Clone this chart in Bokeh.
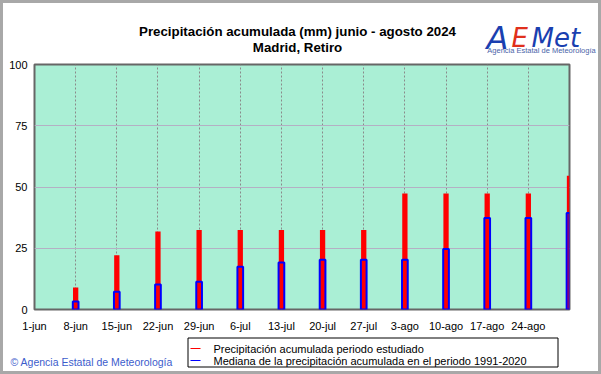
from bokeh.plotting import figure
from bokeh.layouts import column
from bokeh.models import Range1d, FixedTicker
from bokeh.core.properties import value
from bokeh.embed import file_html
from bokeh.resources import INLINE

# ---------------- data ----------------
title_line1 = "Precipitación acumulada (mm) junio - agosto 2024"
title_line2 = "Madrid, Retiro"
tick_days = [0, 7, 14, 21, 28, 35, 42, 49, 56, 63, 70, 77, 84]
tick_labels = ["1-jun", "8-jun", "15-jun", "22-jun", "29-jun", "6-jul", "13-jul",
               "20-jul", "27-jul", "3-ago", "10-ago", "17-ago", "24-ago"]
bar_days = [7, 14, 21, 28, 35, 42, 49, 56, 63, 70, 77, 84, 91]
precip_2024 = [9.0, 22.1, 31.8, 32.5, 32.5, 32.5, 32.5, 32.5, 47.3, 47.3, 47.3, 47.3, 54.6]
median_1991_2020 = [3.3, 7.2, 10.2, 11.3, 17.5, 19.2, 20.3, 20.3, 20.3, 24.7, 37.3, 37.3, 39.4]
y_ticks = [0, 25, 50, 75, 100]
legend_labels = ["Precipitación acumulada periodo estudiado",
                 "Mediana de la precipitación acumulada en el periodo 1991-2020"]
legend_colors = ["#ff0000", "#0000ff"]
credit = "© Agencia Estatal de Meteorología"
logo_sub = "Agencia Estatal de Meteorología"

FONT = "Liberation Sans"
W = 601


def blank(height, y_top, y_bottom):
    f = figure(width=W, height=height, output_backend="svg", toolbar_location=None,
               x_range=Range1d(0, W), y_range=Range1d(y_bottom, y_top),
               min_border=0, min_border_left=0, min_border_right=0,
               min_border_top=0, min_border_bottom=0,
               background_fill_color=None, border_fill_color=None)
    f.axis.visible = False
    f.grid.visible = False
    f.outline_line_color = None
    f.frame_align = False
    return f


# ---------------- header ----------------
head = blank(56, 0, 56)
head.text(x=[297, 297], y=[31, 46.5], text=[title_line1, title_line2],
          text_font=value(FONT), text_font_style="bold", text_font_size="13.3px",
          text_align="center", text_baseline="alphabetic", text_color="black")
head.text(x=[486], y=[37], text=["A"], text_font=value("DejaVu Sans"),
          text_font_style="italic", text_font_size="32px", text_color="#1a3fb0",
          text_baseline="alphabetic")
head.text(x=[511], y=[37], text=["E"], text_font=value("DejaVu Sans"),
          text_font_style="italic", text_font_size="26px", text_color="#e0301c",
          text_baseline="alphabetic")
head.text(x=[531], y=[37], text=["Met"], text_font=value("DejaVu Sans"),
          text_font_style="italic", text_font_size="26px", text_color="#1a3fb0",
          text_baseline="alphabetic")
head.text(x=[541], y=[50], text=[logo_sub], text_font=value(FONT),
          text_font_size="7.5px", text_align="center", text_baseline="middle",
          text_color="#4a64a8")

# ---------------- main chart ----------------
p = figure(width=W, height=278, output_backend="svg", toolbar_location=None,
           x_range=Range1d(0, 91), y_range=Range1d(0, 100),
           min_border_left=34, min_border_right=32, min_border_top=8, min_border_bottom=24,
           background_fill_color="#aaefd5", border_fill_color=None)
p.frame_align = False
p.outline_line_color = "#666666"
p.outline_line_width = 2

p.xaxis.ticker = FixedTicker(ticks=tick_days)
p.xaxis.major_label_overrides = {d: l for d, l in zip(tick_days, tick_labels)}
p.yaxis.ticker = FixedTicker(ticks=y_ticks)
for ax in (p.xaxis[0], p.yaxis[0]):
    ax.axis_line_color = None
    ax.major_tick_line_color = None
    ax.minor_tick_line_color = None
    ax.major_tick_out = 0
    ax.major_tick_in = 0
    ax.major_label_text_font = FONT
    ax.major_label_text_font_size = "11px"
    ax.major_label_text_color = "black"
p.xaxis.major_label_standoff = 10
p.yaxis.major_label_standoff = 7

p.xgrid.ticker = FixedTicker(ticks=tick_days)
p.xgrid.grid_line_color = "#8a8a8a"
p.xgrid.grid_line_dash = "2 2"
p.ygrid.ticker = FixedTicker(ticks=y_ticks)
p.ygrid.grid_line_color = "#b4b0c4"

p.vbar(x=bar_days, top=precip_2024, bottom=0, width=0.9,
       fill_color="#ff0000", line_color=None)
p.vbar(x=bar_days, top=median_1991_2020, bottom=0, width=0.97,
       fill_alpha=0, line_color="#0000ff", line_width=2)

# ---------------- footer (credit + legend box) ----------------
foot = blank(40, 334, 374)
foot.text(x=[10], y=[361], text=[credit], text_font=value(FONT), text_font_size="10.5px",
          text_align="left", text_baseline="middle", text_color="#3c5ccc")
foot.quad(left=[187.5], right=[557.5], top=[337.5], bottom=[366.5],
          fill_color="white", line_color="black", line_width=1)
row_y = [348, 360]
foot.segment(x0=[190, 190], x1=[200, 200], y0=row_y, y1=row_y,
             line_color=legend_colors, line_width=1.2)
foot.text(x=[213, 213], y=row_y, text=legend_labels, text_font=value(FONT),
          text_font_size="11px", text_align="left", text_baseline="middle",
          text_color="black")

layout = column(head, p, foot, spacing=0,
                styles={"box-shadow": "inset 0 0 0 3px #a8a8a8", "background": "white"})

open("out.html", "w").write(file_html(layout, INLINE))
